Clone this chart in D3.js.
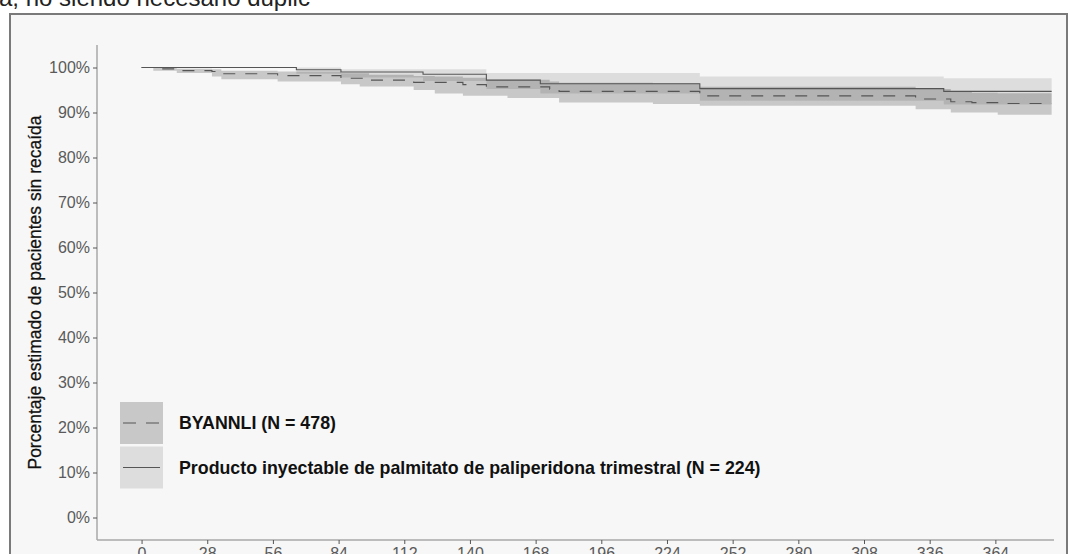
<!DOCTYPE html>
<html>
<head>
<meta charset="utf-8">
<script src="https://cdn.jsdelivr.net/npm/d3@7"></script>
<style>
  html, body { margin: 0; padding: 0; background: #ffffff; }
  svg { display: block; font-family: "Liberation Sans", Arial, sans-serif; }
</style>
</head>
<body>
<svg id="chart" width="1070" height="554"></svg>
<script>
// Kaplan-Meier estimates (% without relapse) by study day, with 95% CI

// BYANNLI (N = 478)
const byDays  = [0,   5,    15,   30,   34,   58,   85,   93,   97,   116,  125,  137,  147,  156,  174,  178,  218,  238,  330,  345,  354,  365];
const bySurv  = [100, 99.7, 99.3, 99.1, 98.6, 98.2, 97.6, 97.6, 97.2, 96.7, 96.7, 96.2, 95.7, 95.7, 95.2, 94.7, 94.7, 93.7, 93.0, 92.4, 92.2, 92.0];
const byLower = [100, 99.3, 98.8, 98.0, 97.4, 96.9, 96.3, 95.8, 95.8, 95.0, 94.2, 93.7, 93.7, 93.2, 93.2, 92.2, 91.9, 91.5, 90.7, 90.0, 90.0, 89.5];
const byUpper = [100, 100,  99.7, 99.6, 99.3, 99.1, 98.7, 98.7, 98.4, 98.1, 98.0, 97.7, 97.3, 97.3, 96.9, 96.6, 96.5, 95.7, 95.2, 94.6, 94.4, 94.3];

// Paliperidone palmitate 3-monthly (N = 224)
const ppDays  = [0,   66,   85,   120,  147,  170,  238,  342];
const ppSurv  = [100, 99.5, 99.0, 98.5, 97.2, 96.4, 95.3, 94.7];
const ppLower = [100, 98.6, 97.8, 97.0, 95.2, 94.2, 92.6, 91.8];
const ppUpper = [100, 100,  99.6, 99.6, 98.8, 98.8, 98.0, 97.6];

const lastDay = 388;

const xTicks = [0, 28, 56, 84, 112, 140, 168, 196, 224, 252, 280, 308, 336, 364];
const yTicks = [0, 10, 20, 30, 40, 50, 60, 70, 80, 90, 100];

const legendLabels = ["BYANNLI (N = 478)",
  "Producto inyectable de palmitato de paliperidona trimestral (N = 224)"];

const svg = d3.select("#chart");

// surrounding document text line and frame
svg.append("text")
  .attr("x", -1).attr("y", 6)
  .attr("font-size", 24).attr("fill", "#222")
  .text("a, no siendo necesario duplic");

svg.append("rect")
  .attr("x", 10).attr("y", 14)
  .attr("width", 1057).attr("height", 560)
  .attr("fill", "#f7f7f7")
  .attr("stroke", "#7a7a7a").attr("stroke-width", 2);

const x = d3.scaleLinear().domain([-19, 389]).range([97, 1054]);
const y = d3.scaleLinear().domain([-5, 105]).range([540, 45]);

function rows(days, surv, lower, upper) {
  const r = days.map((d, i) => ({ d, s: surv[i], lo: lower[i], hi: upper[i] }));
  const last = r[r.length - 1];
  r.push({ d: lastDay, s: last.s, lo: last.lo, hi: last.hi });
  return r;
}
const byRows = rows(byDays, bySurv, byLower, byUpper);
const ppRows = rows(ppDays, ppSurv, ppLower, ppUpper);

const band = d3.area()
  .curve(d3.curveStepAfter)
  .x(r => x(r.d)).y0(r => y(r.lo)).y1(r => y(r.hi));
const line = d3.line()
  .curve(d3.curveStepAfter)
  .x(r => x(r.d)).y(r => y(r.s));

const ppFill = "rgba(0,0,0,0.10)";
const byFill = "rgba(0,0,0,0.19)";

svg.append("path").datum(ppRows).attr("d", band).attr("fill", ppFill);
svg.append("path").datum(byRows).attr("d", band).attr("fill", byFill);

svg.append("path").datum(ppRows).attr("d", line)
  .attr("fill", "none").attr("stroke", "#555").attr("stroke-width", 1.1);
svg.append("path").datum(byRows).attr("d", line)
  .attr("fill", "none").attr("stroke", "#555").attr("stroke-width", 1.1)
  .attr("stroke-dasharray", "12,10");

// axes
const yAxis = d3.axisLeft(y).tickValues(yTicks).tickSize(4).tickPadding(3)
  .tickFormat(d => d + "%");
const gy = svg.append("g").attr("transform", "translate(97,0)").call(yAxis);
gy.select(".domain").attr("d", `M0,${y(105)}V${y(-5)}`).attr("stroke", "#a8a8a8").attr("stroke-width", 1.5);

const xAxis = d3.axisBottom(x).tickValues(xTicks).tickSize(4).tickPadding(4);
const gx = svg.append("g").attr("transform", "translate(0,540)").call(xAxis);
gx.select(".domain").attr("d", `M${x(-19)},0H${x(389)}`).attr("stroke", "#a8a8a8").attr("stroke-width", 1.5);

[gx, gy].forEach(g => {
  g.selectAll(".tick line").attr("stroke", "#555");
  g.selectAll(".tick text").attr("fill", "#5a5a5a").attr("font-size", 16)
    .attr("font-family", "'Liberation Sans', Arial, sans-serif");
});

svg.append("text")
  .attr("transform", `translate(41,${(y(105) + y(-5)) / 2}) rotate(-90)`)
  .attr("text-anchor", "middle")
  .attr("font-size", 17.5).attr("fill", "#111")
  .attr("stroke", "#111").attr("stroke-width", 0.25)
  .text("Porcentaje estimado de pacientes sin recaída");

// legend
const legend = svg.append("g");
const keys = [
  { fill: byFill, dash: "12,10", label: legendLabels[0] },
  { fill: ppFill, dash: null, label: legendLabels[1] }
];
keys.forEach((k, i) => {
  const top = 402 + i * 44.5;
  legend.append("rect").attr("x", 120).attr("y", top)
    .attr("width", 43).attr("height", 42).attr("fill", k.fill);
  const l = legend.append("line")
    .attr("x1", 123).attr("x2", 160)
    .attr("y1", top + 21).attr("y2", top + 21)
    .attr("stroke", "#555").attr("stroke-width", 1.1);
  if (k.dash) l.attr("stroke-dasharray", "13,10");
  legend.append("text").attr("x", 179).attr("y", top + 27)
    .attr("font-size", 17.8).attr("font-weight", "bold").attr("fill", "#111")
    .text(k.label);
});
</script>
</body>
</html>
